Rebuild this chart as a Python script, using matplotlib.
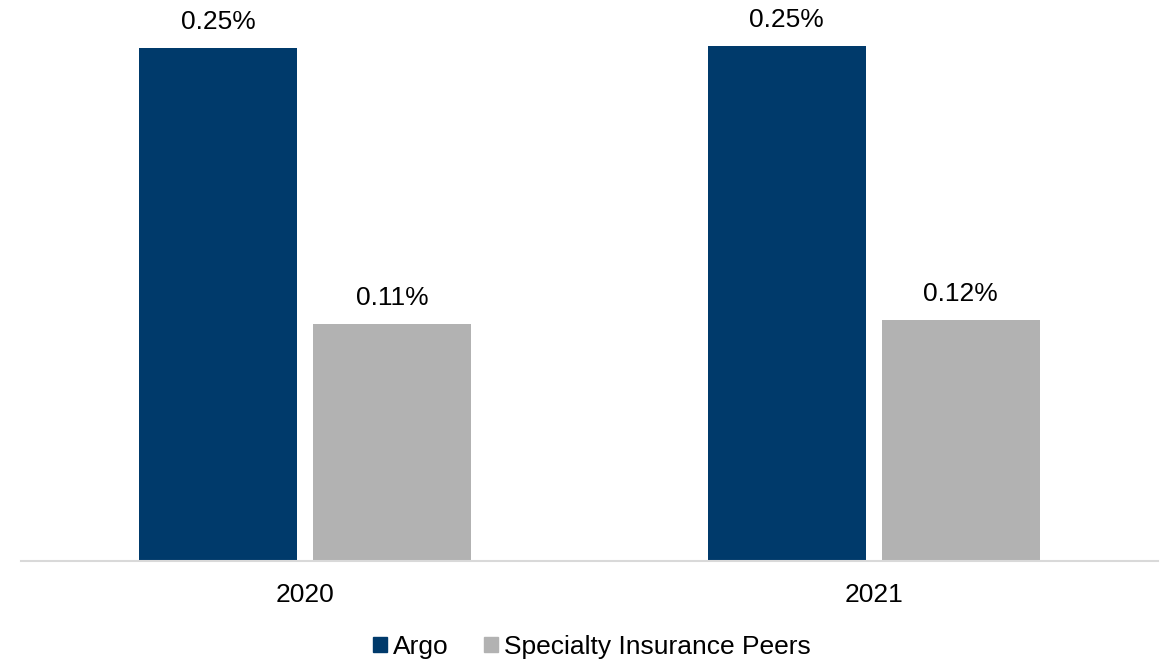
import matplotlib
matplotlib.use("Agg")
import matplotlib.pyplot as plt
from matplotlib.patches import Patch
import numpy as np

plt.rcParams['font.family'] = ['Liberation Sans', 'DejaVu Sans']

years = ["2020", "2021"]
series_names = ["Argo", "Specialty Insurance Peers"]
argo = [0.250, 0.251]
peers = [0.1155, 0.1175]
argo_labels = ["0.25%", "0.25%"]
peers_labels = ["0.11%", "0.12%"]
colors = ["#003A6B", "#B2B2B2"]

fig = plt.figure(figsize=(11.66, 6.62), dpi=100)
ax = fig.add_axes([21/1166, 101/662, 1137/1166, 561/662])

x = np.arange(len(years))
w = 0.278
off = 0.153
b1 = ax.bar(x - off, argo, w, color=colors[0])
b2 = ax.bar(x + off, peers, w, color=colors[1])

for bars, labs in ((b1, argo_labels), (b2, peers_labels)):
    for r, t in zip(bars, labs):
        ax.annotate(t, (r.get_x() + r.get_width()/2, r.get_height()),
                    xytext=(0, 10), textcoords="offset points",
                    ha="center", va="bottom", fontsize=19, color="#000000")

ax.set_xlim(-0.5, 1.5)
ax.set_ylim(0, 0.2734)
ax.set_xticks(x)
ax.set_xticklabels(years, fontsize=19)
ax.tick_params(axis='x', length=0, pad=15.5)
ax.set_yticks([])
for s in ("top", "right", "left"):
    ax.spines[s].set_visible(False)
ax.spines["bottom"].set_color("#D9D9D9")
ax.spines["bottom"].set_linewidth(1.5)

handles = [Patch(color=colors[0]), Patch(color=colors[1])]
fig.legend(handles, series_names, loc="center", bbox_to_anchor=(592/1166, 1 - 647/662),
           ncol=2, frameon=False, fontsize=19, handlelength=0.53, handleheight=0.53,
           handletextpad=0.22, columnspacing=1.35)

fig.savefig("out.png", dpi=100)
